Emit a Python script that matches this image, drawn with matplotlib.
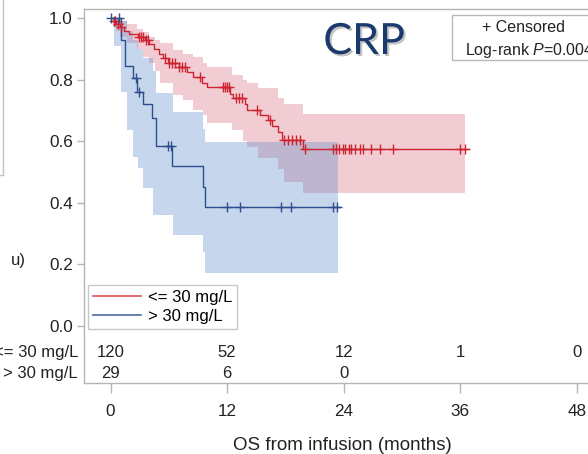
import numpy as np
import matplotlib
matplotlib.use('Agg')
import matplotlib.pyplot as plt
from matplotlib.lines import Line2D
from matplotlib.patches import Rectangle
import matplotlib.patheffects as pe

plt.rcParams['font.family'] = ['Liberation Sans', 'DejaVu Sans']
plt.rcParams['mathtext.fontset'] = 'custom'
plt.rcParams['mathtext.rm'] = 'Liberation Sans'
plt.rcParams['mathtext.it'] = 'Liberation Sans:italic'

# <= 30 mg/L : KM steps
red_t = [0, 0.3, 0.6, 1.0, 1.4, 1.9, 2.8, 3.5, 4.0, 4.5, 5.0, 5.4, 5.9, 7.0, 7.9, 8.5,
         9.4, 9.9, 12.3, 12.6, 13.8, 14.0, 15.4, 16.2, 16.6, 17.2, 17.6, 19.8]
red_s = [1.0, 0.99, 0.98, 0.97, 0.96, 0.95, 0.94, 0.93, 0.915, 0.90, 0.885, 0.87, 0.855,
         0.84, 0.825, 0.81, 0.79, 0.775, 0.755, 0.74, 0.72, 0.70, 0.685, 0.67, 0.65,
         0.63, 0.605, 0.575]
red_end = 36.8
red_cens = [0.3, 0.5, 0.8, 1.1, 2.9, 3.1, 3.3, 3.6, 3.9, 5.6, 6.0, 6.3, 6.6, 7.0, 7.4,
            7.7, 9.2, 11.6, 11.8, 12.0, 12.2, 12.9, 13.2, 13.5, 15.1, 16.4, 17.9, 18.3,
            18.7, 19.1, 19.5, 20.0, 22.9, 23.2, 23.5, 23.9, 24.1, 24.5, 24.8, 25.2, 25.7,
            26.0, 26.8, 27.7, 29.1, 36.0, 36.5]
red_ci_t = [0.2, 0.6, 1.0, 1.7, 2.7, 3.3, 4.0, 4.6, 5.1, 6.4, 7.5, 8.5, 9.5, 9.9, 12.5,
            13.6, 14.0, 15.2, 17.2, 17.9, 19.8]
red_lo = [0.97, 0.96, 0.94, 0.92, 0.90, 0.875, 0.853, 0.83, 0.79, 0.75, 0.734, 0.70,
          0.685, 0.66, 0.637, 0.60, 0.58, 0.545, 0.51, 0.468, 0.433]
red_hi = [1.0, 0.995, 0.99, 0.98, 0.965, 0.955, 0.94, 0.93, 0.92, 0.897, 0.885, 0.874,
          0.855, 0.842, 0.816, 0.80, 0.79, 0.773, 0.74, 0.72, 0.69]
red_ci_end = 36.5

# > 30 mg/L
blue_t = [0, 1.1, 1.5, 2.3, 2.75, 3.35, 4.3, 4.65, 6.35, 9.5, 9.75]
blue_s = [1.0, 0.93, 0.845, 0.805, 0.76, 0.72, 0.675, 0.585, 0.52, 0.452, 0.387]
blue_end = 23.6
blue_cens = [0.0, 0.9, 2.6, 2.9, 5.9, 6.2, 12.0, 13.3, 17.5, 18.6, 22.9, 23.3]
blue_ci_t = [0.3, 1.1, 1.65, 2.3, 2.8, 3.35, 4.4, 4.65, 6.4, 9.5, 9.75]
blue_lo = [0.91, 0.76, 0.637, 0.55, 0.513, 0.448, 0.36, 0.36, 0.295, 0.24, 0.172]
blue_hi = [1.0, 0.99, 0.96, 0.93, 0.90, 0.87, 0.83, 0.757, 0.695, 0.64, 0.597]
blue_ci_end = 23.4

# numbers at risk
risk_times = [0, 12, 24, 36, 48]
risk_red = ['120', '52', '12', '1', '0']
risk_blue = ['29', '6', '0']
groups = ['<= 30 mg/L', '> 30 mg/L']

red_line = '#CC2531'
blue_line = '#2D4E8E'
red_fill = (0.84, 0.35, 0.44)
blue_fill = (0.37, 0.55, 0.79)
grey = '#B4B4B4'

fig = plt.figure(figsize=(5.88, 4.54), dpi=100)
ax = fig.add_axes([84 / 588, 71 / 454, 517 / 588, 374 / 454])


def step_at(times, vals, x):
    i = np.searchsorted(times, x, side='right') - 1
    return np.array(vals)[i]


# bands
ax.fill_between(red_ci_t + [red_ci_end], red_lo + [red_lo[-1]], red_hi + [red_hi[-1]],
                step='post', color=red_fill, alpha=0.3, lw=0)
ax.fill_between(blue_ci_t + [blue_ci_end], blue_lo + [blue_lo[-1]], blue_hi + [blue_hi[-1]],
                step='post', color=blue_fill, alpha=0.35, lw=0)

# curves
ax.step(red_t + [red_end], red_s + [red_s[-1]], where='post', color=red_line, lw=1.0)
ax.step(blue_t + [blue_end], blue_s + [blue_s[-1]], where='post', color=blue_line, lw=1.0)
ax.plot(red_cens, step_at(red_t, red_s, red_cens), '+', color=red_line, ms=6.5, mew=1.0)
ax.plot(blue_cens, step_at(blue_t, blue_s, blue_cens), '+', color=blue_line, ms=6.5, mew=1.0)

ax.set_xlim(-2.74, 50.5)
ax.set_ylim(-0.186, 1.030)
ax.set_xticks(risk_times)
ax.set_yticks([0.0, 0.2, 0.4, 0.6, 0.8, 1.0])
ax.set_yticklabels(['0.0', '0.2', '0.4', '0.6', '0.8', '1.0'])
for s in ax.spines.values():
    s.set_color(grey)
    s.set_linewidth(1.0)
ax.tick_params(axis='y', length=5, width=1, color=grey, pad=3, labelsize=12.3, labelcolor='#222222')
ax.tick_params(axis='x', length=7, width=1, color=grey, pad=8, labelsize=12.3, labelcolor='#222222')
ax.set_xlabel('OS from infusion (months)', fontsize=13.5, color='#222222', labelpad=13)

# risk table
for t, v in zip(risk_times, risk_red):
    ax.text(t, -0.0875, v, ha='center', va='center', fontsize=12, color='#222222')
for t, v in zip(risk_times, risk_blue):
    ax.text(t, -0.1535, v, ha='center', va='center', fontsize=12, color='#222222')
ax.text(-3.37, -0.0875, groups[0], ha='right', va='center', fontsize=12, color='#222222')
ax.text(-3.37, -0.1535, groups[1], ha='right', va='center', fontsize=12, color='#222222')

# legend
handles = [Line2D([], [], color='#D9534F', lw=1.2), Line2D([], [], color='#4A6AA5', lw=1.2)]
leg = ax.legend(handles, groups, loc='lower left', bbox_to_anchor=(0.0077, 0.144),
                borderaxespad=0, fontsize=12, handlelength=2.9, handletextpad=0.4,
                labelspacing=0.25, borderpad=0.3, fancybox=False, framealpha=1)
leg.get_frame().set_edgecolor('#C8C8C8')
leg.get_frame().set_linewidth(1.0)

# censored / log-rank box
fig.add_artist(Rectangle((452 / 588, 1 - 60 / 454), 0.4, 45 / 454, transform=fig.transFigure,
                         fill=False, edgecolor='#B8B8B8', lw=1.0))
fig.text(482 / 588, 1 - 27 / 454, '+ Censored', ha='left', va='center', fontsize=11.5, color='#222222')
fig.text(465 / 588, 1 - 50 / 454, 'Log-rank $P$=0.0040', ha='left', va='center', fontsize=11.5, color='#222222')

# title
fig.text(364 / 588, 1 - 42 / 454, 'CRP', ha='center', va='center', fontsize=31,
         family=['Lato', 'DejaVu Sans'], color='#1A3A6E',
         path_effects=[pe.withSimplePatchShadow(offset=(1.5, -1.5), shadow_rgbFace='#888888', alpha=0.5)])

# remnants at left edge
fig.add_artist(Line2D([3 / 588, 3 / 588], [1, 1 - 175 / 454], transform=fig.transFigure, color='#C4C4C4', lw=1))
fig.add_artist(Line2D([0, 3 / 588], [1 - 175 / 454, 1 - 175 / 454], transform=fig.transFigure, color='#C4C4C4', lw=1))
fig.text(18 / 588, 1 - 260 / 454, 'u)', ha='center', va='center', fontsize=12, color='#222222')

plt.savefig('out.png', dpi=100)
